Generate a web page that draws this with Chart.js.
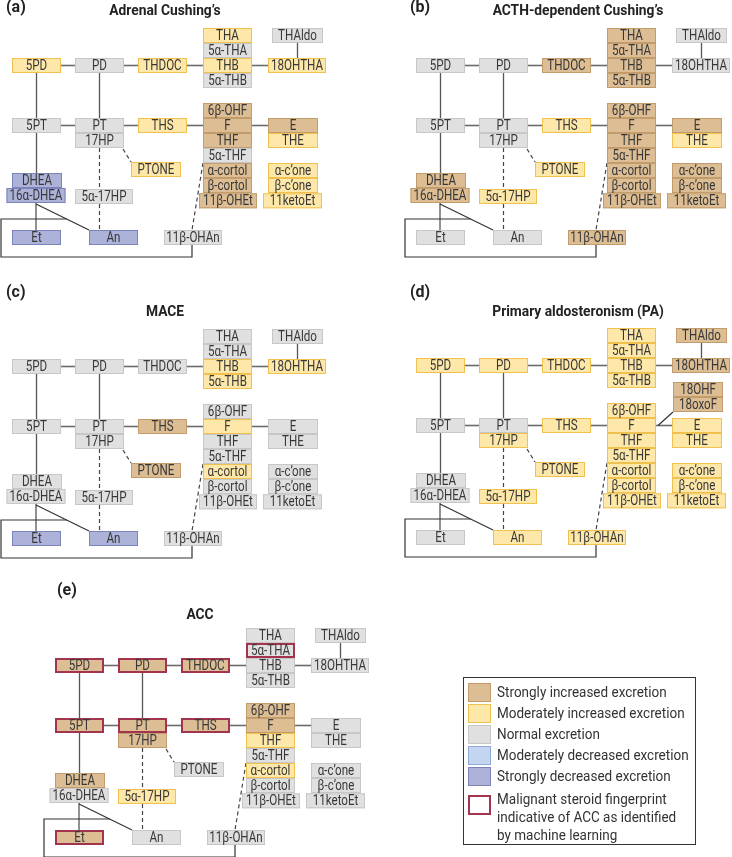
<!DOCTYPE html>
<html>
<head>
<meta charset="utf-8">
<script src="https://cdn.jsdelivr.net/npm/chart.js@4/dist/chart.umd.min.js"></script>
<style>
  html, body { margin: 0; padding: 0; background: #fff; }
  #map { display: block; }
</style>
</head>
<body>
<canvas id="map" width="732" height="857"></canvas>
<script>
// metabolites shown in every panel
const metabolites = ['5PD', 'PD', 'THDOC', 'THA', '5α-THA', 'THB', '5α-THB', 'THAldo', '18OHTHA',
  '5PT', 'PT', '17HP', 'THS', '6β-OHF', 'F', 'THF', '5α-THF', 'α-cortol', 'β-cortol', '11β-OHEt',
  'E', 'THE', 'PTONE', 'α-c’one', 'β-c’one', '11ketoEt', 'DHEA', '16α-DHEA', '5α-17HP', 'Et', 'An', '11β-OHAn'];

// excretion class per metabolite (S+ strong up, M+ moderate up, N normal, M- moderate down, S- strong down)
const adrenalCushing = ['M+', 'N', 'M+', 'M+', 'N', 'M+', 'N', 'N', 'M+',
  'N', 'N', 'N', 'M+', 'S+', 'S+', 'S+', 'N', 'S+', 'S+', 'S+',
  'S+', 'M+', 'M+', 'M+', 'M+', 'M+', 'S-', 'S-', 'N', 'S-', 'S-', 'N'];
const acthCushing = ['N', 'N', 'S+', 'S+', 'S+', 'S+', 'S+', 'N', 'N',
  'N', 'N', 'N', 'M+', 'S+', 'S+', 'S+', 'S+', 'S+', 'S+', 'S+',
  'S+', 'M+', 'M+', 'S+', 'S+', 'S+', 'S+', 'S+', 'M+', 'N', 'N', 'S+'];
const mace = ['N', 'N', 'N', 'N', 'N', 'M+', 'M+', 'N', 'M+',
  'N', 'N', 'N', 'S+', 'N', 'M+', 'N', 'N', 'M+', 'N', 'N',
  'N', 'N', 'S+', 'N', 'N', 'N', 'N', 'N', 'N', 'S-', 'S-', 'N'];
const primaryAldo = ['M+', 'M+', 'M+', 'M+', 'M+', 'M+', 'M+', 'S+', 'S+',
  'N', 'N', 'M+', 'M+', 'M+', 'M+', 'M+', 'M+', 'M+', 'M+', 'M+',
  'M+', 'M+', 'M+', 'M+', 'M+', 'M+', 'N', 'N', 'M+', 'N', 'M+', 'M+'];
const acc = ['S+', 'S+', 'S+', 'N', 'N', 'N', 'N', 'N', 'N',
  'S+', 'S+', 'S+', 'S+', 'S+', 'S+', 'M+', 'N', 'M+', 'N', 'N',
  'N', 'N', 'N', 'N', 'N', 'N', 'S+', 'N', 'M+', 'S+', 'N', 'N'];

// extra metabolites only in the PA panel
const paExtra = ['18OHF', '18oxoF'];
const paExtraStatus = ['S+', 'S+'];

// ACC machine-learning fingerprint
const accFingerprint = ['5PD', 'PD', 'THDOC', '5α-THA', '5PT', 'PT', 'THS', 'Et'];

const panelLabels = ['(a)', '(b)', '(c)', '(d)', '(e)'];
const panelTitles = ['Adrenal Cushing’s', 'ACTH-dependent Cushing’s', 'MACE', 'Primary aldosteronism (PA)', 'ACC'];
const legendKeys = ['S+', 'M+', 'N', 'M-', 'S-'];
const legendLabels = ['Strongly increased excretion', 'Moderately increased excretion', 'Normal excretion',
  'Moderately decreased excretion', 'Strongly decreased excretion'];
const fingerprintLabel = ['Malignant steroid fingerprint', 'indicative of ACC as identified', 'by machine learning'];

// ---- layout (panel-local coordinates: centre x, centre y, width) ----
const layout = {
  '5PD': [36.5, 65.5, 49], 'PD': [99.5, 65.5, 49], 'THDOC': [162.5, 65.5, 49],
  'THA': [227.5, 35.5, 49], '5α-THA': [227.5, 50.5, 49], 'THB': [227.5, 65.5, 49], '5α-THB': [227.5, 80.5, 49],
  'THAldo': [297.5, 35.5, 51], '18OHTHA': [297, 65.5, 58],
  '5PT': [36.5, 125.5, 49], 'PT': [99.5, 125.5, 49], '17HP': [99.5, 140.5, 49], 'THS': [162.5, 125.5, 49],
  '6β-OHF': [227.5, 110.5, 49], 'F': [227.5, 125.5, 49], 'THF': [227.5, 140.5, 49], '5α-THF': [227.5, 155.5, 49],
  'α-cortol': [227.5, 170.5, 49], 'β-cortol': [227.5, 185.5, 49], '11β-OHEt': [228, 200.8, 58],
  'E': [293, 125.5, 50], 'THE': [293, 140.5, 50], 'PTONE': [156, 169.5, 50],
  'α-c’one': [293, 170.5, 50], 'β-c’one': [293, 185.5, 50], '11ketoEt': [292.5, 200.8, 59],
  'DHEA': [37, 180.5, 50], '16α-DHEA': [36, 195.5, 59], '5α-17HP': [104, 196.5, 58],
  'Et': [36.5, 237.5, 49], 'An': [113.5, 237.5, 49], '11β-OHAn': [193, 237.5, 58],
  '18OHF': [294, 89.5, 50], '18oxoF': [294, 104.5, 50]
};
const boxH = 15;
const panelOffsets = [[0, 0], [404, 0], [0, 301], [404, 300], [43, 600]];
const labelPos = [[6, 8], [410, 8], [6, 293], [410, 293], [57, 591]];
const titlePos = [[165, 11], [578, 11], [165, 312], [578, 312], [200, 615]];
const loopTop = 219, loopBottom = 257, loopLeft = 1;

const hLinks = [['5PD', 'PD'], ['PD', 'THDOC'], ['THDOC', 'THB'], ['THB', '18OHTHA'],
  ['5PT', 'PT'], ['PT', 'THS'], ['THS', 'F'], ['F', 'E']];
const vLinks = [['THAldo', '18OHTHA'], ['5PD', '5PT'], ['PD', 'PT'], ['5PT', 'DHEA'], ['16α-DHEA', 'Et']];

const colours = {
  'S+': ['#dcbd94', '#c29d6b'],
  'M+': ['#fde7a9', '#f0c14f'],
  'N': ['#e0e0e0', '#c7c7c7'],
  'M-': ['#c4d5ef', '#8eaad7'],
  'S-': ['#adb3d8', '#7b83ba']
};
const fingerprintColour = '#a3344e';
const FONT = 'Roboto, "Liberation Sans", sans-serif';

const panelStatus = [adrenalCushing, acthCushing, mace, primaryAldo, acc];

const datasets = panelStatus.map(function (status, p) {
  let names = metabolites.slice();
  let st = status.slice();
  if (p === 3) {
    names = names.concat(paExtra);
    st = st.concat(paExtraStatus);
  }
  return {
    label: panelTitles[p],
    names: names,
    status: st,
    data: names.map(function (n) {
      return { x: layout[n][0] + panelOffsets[p][0], y: layout[n][1] + panelOffsets[p][1] };
    }),
    pointRadius: 0,
    pointHoverRadius: 0
  };
});

function text(ctx, str, x, y, size, weight, align, squeeze, colour) {
  ctx.save();
  ctx.font = weight + ' ' + size + 'px ' + FONT;
  ctx.fillStyle = colour || '#333';
  ctx.textAlign = align;
  ctx.textBaseline = 'middle';
  ctx.translate(x, y);
  ctx.scale(squeeze, 1);
  ctx.fillText(str, 0, 0);
  ctx.restore();
}

function line(ctx, pts, colour, width, dash) {
  ctx.save();
  ctx.strokeStyle = colour;
  ctx.lineWidth = width;
  ctx.setLineDash(dash || []);
  ctx.beginPath();
  ctx.moveTo(pts[0][0], pts[0][1]);
  for (let i = 1; i < pts.length; i++) ctx.lineTo(pts[i][0], pts[i][1]);
  ctx.stroke();
  ctx.restore();
}

const steroidMap = {
  id: 'steroidMap',
  afterDatasetsDraw: function (chart) {
    const ctx = chart.ctx;
    const xs = chart.scales.x, ys = chart.scales.y;
    const px = function (v) { return xs.getPixelForValue(v); };
    const py = function (v) { return ys.getPixelForValue(v); };

    chart.data.datasets.forEach(function (ds, p) {
      const meta = chart.getDatasetMeta(p);
      const off = panelOffsets[p];
      const r = {};
      ds.names.forEach(function (n, i) {
        const el = meta.data[i];
        const w = layout[n][2];
        const halfW = (px(ds.data[i].x + w / 2) - px(ds.data[i].x - w / 2)) / 2;
        const halfH = Math.abs(py(ds.data[i].y + boxH / 2) - py(ds.data[i].y - boxH / 2)) / 2;
        r[n] = { cx: el.x, cy: el.y, l: el.x - halfW, r: el.x + halfW, t: el.y - halfH, b: el.y + halfH };
      });

      // solid pathway links
      hLinks.forEach(function (k) {
        line(ctx, [[r[k[0]].r, r[k[0]].cy], [r[k[1]].l, r[k[0]].cy]], '#6b6b6b', 1.6);
      });
      vLinks.forEach(function (k) {
        line(ctx, [[r[k[0]].cx, r[k[0]].b], [r[k[0]].cx, r[k[1]].t]], '#555', 1.3);
      });
      // 16α-DHEA -> An, and loop back to 11β-OHAn
      const d0 = [r['16α-DHEA'].cx, r['16α-DHEA'].b + 1];
      const d1 = [r['An'].l, r['An'].t];
      line(ctx, [d0, d1], '#333', 1.2);
      const yTop = py(loopTop + off[1]);
      const xCross = d0[0] + (d1[0] - d0[0]) * (yTop - d0[1]) / (d1[1] - d0[1]);
      const xr = r['11β-OHAn'].cx - 1;
      line(ctx, [[xCross, yTop], [px(loopLeft + off[0]), yTop], [px(loopLeft + off[0]), py(loopBottom + off[1])],
        [xr, py(loopBottom + off[1])], [xr, r['11β-OHAn'].b]], '#333', 1.2);
      // dashed links
      line(ctx, [[r['17HP'].cx, r['17HP'].b], [r['17HP'].cx, r['An'].t]], '#444', 1.2, [4, 3]);
      line(ctx, [[r['17HP'].r - 1, r['17HP'].b + 1], [r['PTONE'].l, r['PTONE'].t]], '#444', 1.2, [4, 3]);
      line(ctx, [[r['5α-THF'].l, r['5α-THF'].b], [xr, r['11β-OHAn'].t]], '#444', 1.2, [4, 3]);
      if (r['18OHF']) {
        line(ctx, [[r['18OHF'].l, r['18oxoF'].b], [r['F'].r + 2, r['F'].cy]], '#333', 1.2);
      }

      // boxes
      ds.names.forEach(function (n, i) {
        const b = r[n];
        const c = colours[ds.status[i]];
        ctx.fillStyle = c[0];
        ctx.fillRect(b.l, b.t, b.r - b.l, b.b - b.t);
        ctx.strokeStyle = c[1];
        ctx.lineWidth = 1;
        ctx.strokeRect(b.l + 0.5, b.t + 0.5, b.r - b.l - 1, b.b - b.t - 1);
      });
      if (p === 4) {
        accFingerprint.forEach(function (n) {
          const b = r[n];
          ctx.strokeStyle = fingerprintColour;
          ctx.lineWidth = 2;
          ctx.strokeRect(b.l + 1, b.t + 1, b.r - b.l - 2, b.b - b.t - 2);
        });
      }
      ds.names.forEach(function (n) {
        text(ctx, n, r[n].cx, r[n].cy + 0.8, 14.5, 'normal', 'center', 0.8, '#383838');
      });

      text(ctx, panelLabels[p], px(labelPos[p][0]), py(labelPos[p][1]), 16, 'bold', 'left', 1, '#222');
      text(ctx, panelTitles[p], px(titlePos[p][0]), py(titlePos[p][1]), 15, 'bold', 'center', 0.92, '#222');
    });

    // legend
    const L = px(463), T = py(677), R = px(695), B = py(844);
    ctx.strokeStyle = '#333';
    ctx.lineWidth = 1;
    ctx.strokeRect(L + 0.5, T + 0.5, R - L, B - T);
    legendKeys.forEach(function (k, i) {
      const y = py(683 + i * 21);
      ctx.fillStyle = colours[k][0];
      ctx.fillRect(px(468), y, 23, 19);
      ctx.strokeStyle = colours[k][1];
      ctx.strokeRect(px(468) + 0.5, y + 0.5, 22, 18);
      text(ctx, legendLabels[i], px(497), y + 10, 15, 'normal', 'left', 0.9, '#333');
    });
    ctx.strokeStyle = fingerprintColour;
    ctx.lineWidth = 2;
    ctx.strokeRect(px(469), py(796), 21, 18);
    fingerprintLabel.forEach(function (s, i) {
      text(ctx, s, px(497), py(800 + i * 18), 15, 'normal', 'left', 0.9, '#333');
    });
  }
};

new Chart(document.getElementById('map'), {
  type: 'scatter',
  data: { datasets: datasets },
  options: {
    responsive: false,
    animation: false,
    devicePixelRatio: 1,
    layout: { padding: 0 },
    events: [],
    plugins: { legend: { display: false }, tooltip: { enabled: false } },
    scales: {
      x: { type: 'linear', min: 0, max: 732, display: false },
      y: { type: 'linear', min: 0, max: 857, reverse: true, display: false }
    }
  },
  plugins: [steroidMap]
});
</script>
</body>
</html>
